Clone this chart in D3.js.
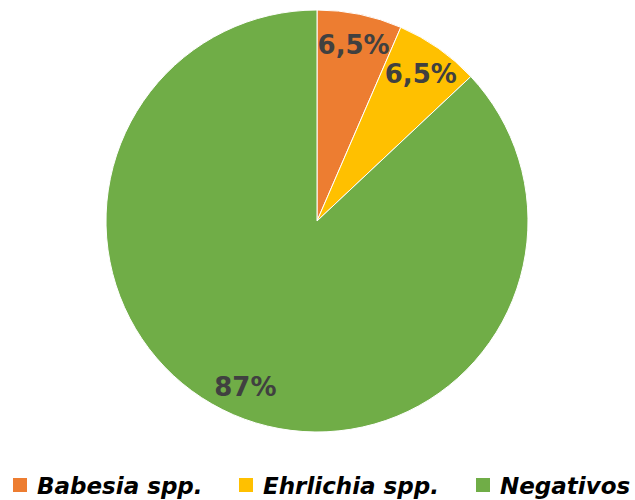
<!DOCTYPE html>
<html><head><meta charset="utf-8">
<script src="https://cdn.jsdelivr.net/npm/d3@7/dist/d3.min.js"></script>
<style>body{margin:0;background:#fff}</style>
</head><body>
<svg id="c" width="635" height="500"></svg>
<script>
const categories = ["Babesia spp.", "Ehrlichia spp.", "Negativos"];
const values = [6.5, 6.5, 87];
const labels = ["6,5%", "6,5%", "87%"];
const colors = ["#ED7D31", "#FFC000", "#70AD47"];

const svg = d3.select("#c");
const cx = 317, cy = 221, R = 211;
const g = svg.append("g").attr("transform", `translate(${cx},${cy})`);
const pie = d3.pie().sort(null).value(d => d)(values);
const arc = d3.arc().innerRadius(0).outerRadius(R);
g.selectAll("path").data(pie).join("path")
  .attr("d", arc).attr("fill", (d, i) => colors[i])
  .attr("stroke", "#fff").attr("stroke-width", 1);
const la = d3.arc().innerRadius(R * 0.855).outerRadius(R * 0.855);
g.selectAll("text").data(pie).join("text")
  .attr("transform", d => `translate(${la.centroid(d)})`)
  .attr("text-anchor", "middle").attr("dy", "0.36em")
  .style("font-family", "'DejaVu Sans', Verdana, sans-serif")
  .style("font-weight", "bold").style("font-size", "26px")
  .attr("fill", "#404040")
  .text((d, i) => labels[i]);

const legX = [13, 239, 476];
const leg = svg.append("g");
categories.forEach((c, i) => {
  leg.append("rect").attr("x", legX[i]).attr("y", 478).attr("width", 14).attr("height", 14).attr("fill", colors[i]);
  leg.append("text").attr("x", legX[i] + 24).attr("y", 494)
    .style("font-family", "'DejaVu Sans', Verdana, sans-serif")
    .style("font-weight", "bold").style("font-style", "italic").style("font-size", "23px")
    .attr("fill", "#000").text(c);
});
</script>
</body></html>
